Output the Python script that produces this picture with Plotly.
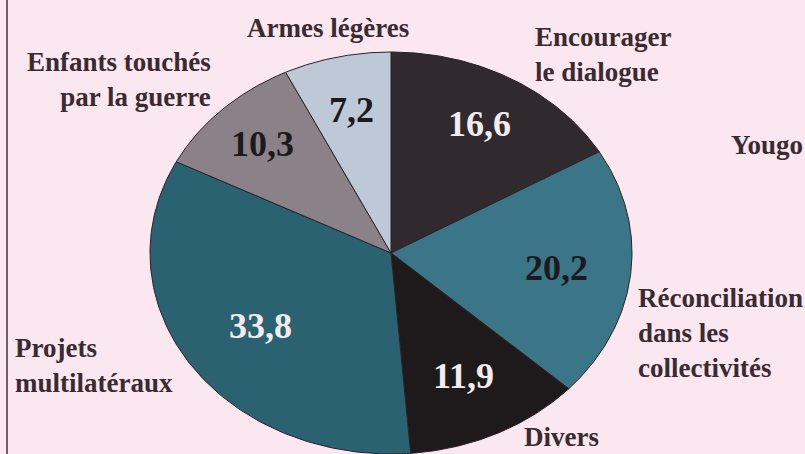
import numpy as np
import plotly.graph_objects as go

# ---- data ----
categories = ["Encourager le dialogue", "Réconciliation dans les collectivités", "Divers",
              "Projets multilatéraux", "Enfants touchés par la guerre", "Armes légères"]
values = [16.6, 20.2, 11.9, 33.8, 10.3, 7.2]
value_labels = ["16,6", "20,2", "11,9", "33,8", "10,3", "7,2"]

# ---- styles ----
colors = ["#302a2e", "#3b7588", "#1e1a1c", "#2a6272", "#8b8189", "#bdc9d7"]
num_colors = ["#f3ebee", "#1e1a1c", "#f3ebee", "#f3ebee", "#1e1a1c", "#1e1a1c"]
num_radius = [0.74, 0.69, 0.68, 0.65, 0.76, 0.73]
bg = "#fbe7ef"
txt = "#3a2b31"
W, H = 805, 454
cx, cy = 391, 253      # pie centre (px)
rx, ry = 241, 201      # pie radii (px)

fig = go.Figure()
total = sum(values)
start = 0.0
for i, v in enumerate(values):
    a0 = start / total * 2 * np.pi
    a1 = (start + v) / total * 2 * np.pi
    t = np.linspace(a0, a1, 120)
    xs = np.concatenate([[0], np.sin(t), [0]])
    ys = np.concatenate([[0], np.cos(t), [0]])
    fig.add_trace(go.Scatter(x=xs, y=ys, mode="lines", fill="toself",
                             fillcolor=colors[i], line=dict(color="#2a2226", width=1),
                             hoverinfo="text", text=categories[i], showlegend=False))
    am = (a0 + a1) / 2
    fig.add_annotation(x=num_radius[i] * np.sin(am), y=num_radius[i] * np.cos(am),
                       text="<b>%s</b>" % value_labels[i], showarrow=False,
                       font=dict(family="Liberation Serif", size=36, color=num_colors[i]),
                       xanchor="center", yanchor="middle")
    start += v

# outside category labels (pixel positions)
outer = [
    ("Armes légères", 328, 28, "center"),
    ("Enfants touchés<br>par la guerre", 213, 79, "right"),
    ("Encourager<br>le dialogue", 533, 55, "left"),
    ("Yougo", 729, 145, "left"),
    ("Réconciliation<br>dans les<br>collectivités", 636, 333, "left"),
    ("Divers", 561, 437, "center"),
    ("Projets<br>multilatéraux", 13, 365, "left"),
]
for text, px, py, anc in outer:
    fig.add_annotation(x=px / W, y=1 - py / H, xref="paper", yref="paper",
                       text="<b>%s</b>" % text, showarrow=False, align=anc,
                       xanchor=anc, yanchor="middle",
                       font=dict(family="Liberation Serif", size=27, color=txt))

fig.add_shape(type="line", xref="paper", yref="paper", x0=7 / W, x1=7 / W, y0=0, y1=1,
              line=dict(color="#6e5e66", width=2))

fig.update_xaxes(range=[-cx / rx, (W - cx) / rx], visible=False, fixedrange=True)
fig.update_yaxes(range=[-(H - cy) / ry, cy / ry], visible=False, fixedrange=True)
fig.update_layout(width=W, height=H, margin=dict(l=0, r=0, t=0, b=0),
                  paper_bgcolor=bg, plot_bgcolor=bg, showlegend=False)
fig.write_html("out.html", config={"displayModeBar": False},
               post_script="document.body.style.margin='0';"
                           "document.body.style.overflow='hidden';"
                           "document.body.style.background='%s';" % bg)
